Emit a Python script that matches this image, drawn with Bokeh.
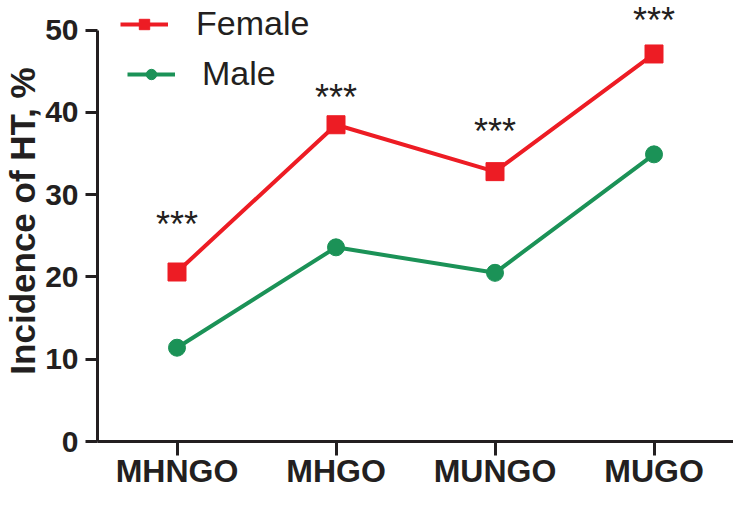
from bokeh.plotting import figure
from bokeh.models import Range1d, FactorRange, Legend, LegendItem, ColumnDataSource
from bokeh.core.properties import value
from bokeh.embed import file_html
from bokeh.resources import INLINE

categories = ["MHNGO", "MHGO", "MUNGO", "MUGO"]
female = [20.6, 38.5, 32.8, 47.1]
male = [11.4, 23.6, 20.5, 34.9]
sig_labels = ["***", "***", "***", "***"]
sig_y = [26.4, 41.8, 37.7, 51.2]
y_ticks = [0, 10, 20, 30, 40, 50]

RED = "#ED1C24"
GREEN = "#1B9257"
INK = "#231F20"
FONT = "Liberation Sans"

p = figure(width=733, height=491,
           x_range=FactorRange(factors=categories),
           y_range=Range1d(0, 53.6),
           output_backend="svg", toolbar_location=None,
           min_border_left=89, min_border_right=0,
           min_border_top=0, min_border_bottom=40)
p.outline_line_color = None
p.xgrid.grid_line_color = None
p.ygrid.grid_line_color = None

src = ColumnDataSource(dict(cat=categories, female=female, male=male))
fl = p.line("cat", "female", source=src, line_width=4, color=RED)
fs = p.scatter("cat", "female", source=src, marker="square", size=18, color=RED)
ml = p.line("cat", "male", source=src, line_width=4, color=GREEN)
ms = p.scatter("cat", "male", source=src, marker="circle", size=17, color=GREEN)

ssrc = ColumnDataSource(dict(cat=categories, y=sig_y, t=sig_labels))
p.text("cat", "y", text="t", source=ssrc, text_align="center", text_baseline="middle",
       text_font=value(FONT), text_font_size="36px", text_color=INK)

for ax in (p.xaxis[0], p.yaxis[0]):
    ax.axis_line_width = 3
    ax.axis_line_color = INK
    ax.major_tick_line_width = 3
    ax.major_tick_line_color = INK
    ax.major_tick_in = 0
    ax.minor_tick_line_color = None
    ax.major_label_text_font = FONT
    ax.major_label_text_font_style = "bold"
    ax.major_label_text_color = INK

p.xaxis.major_tick_out = 14
p.xaxis.major_label_standoff = -3
p.xaxis.major_label_text_font_size = "32px"
p.xaxis.axis_label_standoff = 0
p.xaxis.axis_label_text_font_size = "0px"

p.yaxis.ticker = y_ticks
p.yaxis.bounds = (0, 50)
p.yaxis.major_tick_out = 12
p.yaxis.major_label_standoff = 7
p.yaxis.major_label_text_font_size = "30px"
p.yaxis.axis_label = "Incidence of HT, %"
p.yaxis.axis_label_text_font = FONT
p.yaxis.axis_label_text_font_style = "bold"
p.yaxis.axis_label_text_font_size = "35px"
p.yaxis.axis_label_text_color = INK
p.yaxis.axis_label_standoff = 0

def make_legend(label, renderers, loc, standoff):
    return Legend(items=[LegendItem(label=label, renderers=renderers)], location=loc,
                  padding=0, margin=0, border_line_color=None, background_fill_alpha=0,
                  glyph_width=48, glyph_height=26, label_standoff=standoff,
                  label_text_font=FONT, label_text_font_size="34px", label_text_color=INK)

p.add_layout(make_legend("Female", [fl, fs], (23, 398), 28))
p.add_layout(make_legend("Male", [ml, ms], (30, 348), 27))

open("out.html", "w").write(file_html(p, INLINE))
